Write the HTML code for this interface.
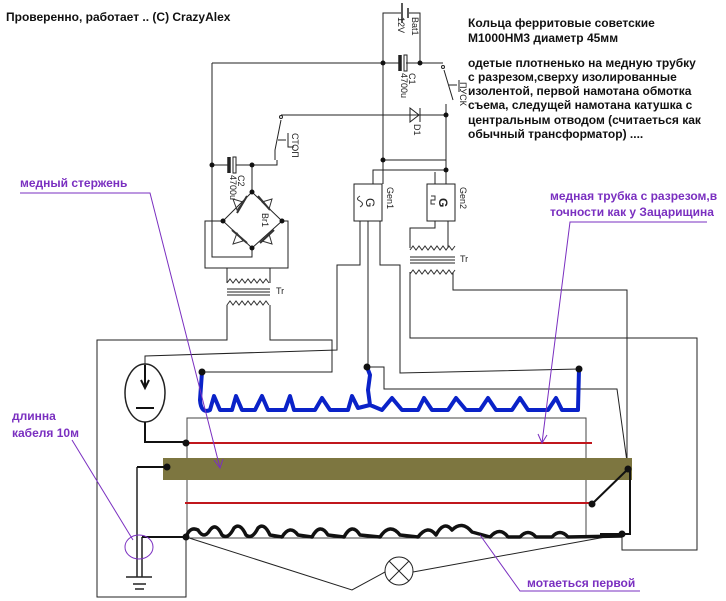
<!DOCTYPE html>
<html><head><meta charset="utf-8"><style>
html,body{margin:0;padding:0;background:#fff;width:726px;height:601px;overflow:hidden}
svg{display:block}
text{font-family:"Liberation Sans","DejaVu Sans",sans-serif}
.b{font-weight:bold;font-size:12px;fill:#111}
.p{font-weight:bold;font-size:12px;fill:#7a2fc0}
.s{font-size:9px;fill:#222}
</style></head><body>
<svg width="726" height="601" viewBox="0 0 726 601" xmlns="http://www.w3.org/2000/svg">
<rect width="726" height="601" fill="#fff"/>
<text x="6" y="21" class="b">Проверенно, работает .. (C) CrazyAlex</text>
<g class="b">
<text x="468" y="27">Кольца ферритовые советские</text>
<text x="468" y="42">М1000НМ3 диаметр 45мм</text>
<text x="468" y="67">одетые плотненько на медную трубку</text>
<text x="468" y="81">с разрезом,сверху изолированные</text>
<text x="468" y="95">изолентой, первой намотана обмотка</text>
<text x="468" y="109">съема, следущей намотана катушка с</text>
<text x="468" y="124">центральным отводом (считаеться как</text>
<text x="468" y="138">обычный трансформатор) ....</text>
</g>

<g fill="none" stroke="#222" stroke-width="1">
<path d="M383,63 V13 H401 M409,13 H420 V63"/>
<line x1="402" y1="3" x2="402" y2="23" stroke-width="1.5"/>
<line x1="408" y1="8" x2="408" y2="18" stroke-width="1.5"/>
<path d="M212,63 H399 M406,63 H443"/>
<line x1="400" y1="55" x2="400" y2="71" stroke-width="3.5"/>
<rect x="404" y="55" width="3" height="16"/>
<circle cx="443" cy="67" r="1.5"/>
<path d="M444,70 L453,100 M446,104 V160 M449,85 H457 M459,80 V92"/>
<path d="M281,115 H446"/>
<path d="M410,108 L410,122 L419,115 Z"/>
<line x1="420" y1="108" x2="420" y2="122"/>
<path d="M212,63 V257 H252 V248"/>
<path d="M212,165 H228 M236,165 H277 V160"/>
<line x1="229" y1="157" x2="229" y2="173" stroke-width="3.5"/>
<rect x="233" y="157" width="3" height="16"/>
<path d="M252,165 V192"/>
<circle cx="281" cy="117" r="1.5"/>
<path d="M281,120 L275,150 V160 M278,140 H286 M288,133 V147 H294"/>
<path d="M252,192 L223,221 L252,248 L282,221 Z"/>
<path d="M223,221 H205 V268 H288 V221 H282"/>
<path d="M227,268 V283 M270,268 V283 M227,305 V340 H97 V597 H186 V537 M270,305 V340 H332 V372 H202"/>
<line x1="227" y1="289" x2="270" y2="289"/><line x1="227" y1="292" x2="270" y2="292"/><line x1="227" y1="295" x2="270" y2="295"/>
<path d="M383,63 V184 M383,160 H446 M373,184 V170 H446 M435,184 V172 M446,160 V184"/>
<rect x="354" y="184" width="28" height="37"/>
<rect x="427" y="184" width="28" height="37"/>
<path d="M360,221 V265 H337 V350 L145,356 V365"/>
<path d="M368,221 V367"/>
<path d="M380,221 V265 H400 V373 L579,369"/>
<path d="M367,367 H384 V389 H617 L628,469"/>
<path d="M435,221 V228 H410 V248 M448,221 V248"/>
<line x1="410" y1="257" x2="455" y2="257"/><line x1="410" y1="260" x2="455" y2="260"/><line x1="410" y1="263" x2="455" y2="263"/>
<path d="M410,272 V338 H697 V550 H622 V534"/>
<path d="M453,272 V290 H627 V469"/>
<ellipse cx="145" cy="393" rx="20" ry="29" stroke-width="1.5"/>
<rect x="187" y="418" width="399" height="120" stroke="#444"/>
<path d="M186,537 L352,590 L385,572 M413,572 L622,534"/>
<circle cx="399" cy="571" r="14"/>
<path d="M389,561 L409,581 M409,561 L389,581"/>
<path d="M137,467 V577 M142,537 V577 M126,577 H152 M133,584 H146 M135,589 H144" stroke-width="1.5"/>
</g>
<g fill="none" stroke="#333" stroke-width="1">
<path d="M227,283 l3,-4 l3,4 l3,-4 l3,4 l3,-4 l3,4 l3,-4 l3,4 l3,-4 l3,4 l3,-4 l3,4 l3,-4 l3,4"/>
<path d="M227,305 l3,-4 l3,4 l3,-4 l3,4 l3,-4 l3,4 l3,-4 l3,4 l3,-4 l3,4 l3,-4 l3,4 l3,-4 l3,4"/>
<path d="M410,250 l3,-4 l3,4 l3,-4 l3,4 l3,-4 l3,4 l3,-4 l3,4 l3,-4 l3,4 l3,-4 l3,4 l3,-4 l3,4 l3,-4"/>
<path d="M410,274 l3,-4 l3,4 l3,-4 l3,4 l3,-4 l3,4 l3,-4 l3,4 l3,-4 l3,4 l3,-4 l3,4 l3,-4 l3,4 l3,-4"/>
<path d="M233,199 l10,3 l-6,8 z M262,202 l10,-3 l-3,10 z M233,244 l10,-3 l-6,-8 z M262,241 l10,3 l-3,-10 z"/>
<path d="M237,213 L247,196 M258,196 L270,210 M232,230 L247,243 M260,243 L274,230" stroke-width="2"/>
<path d="M360,196 q-5,3 0,5 q5,3 0,6 M431,196 h4 v4 h-4 v4 h4"/>
</g>
<g class="s">
<text transform="translate(366,198) rotate(90)" font-size="12">G</text>
<text transform="translate(439,198) rotate(90)" font-size="12" font-weight="bold">G</text>
<text x="460" y="262">Tr</text><text x="276" y="294">Tr</text>
<text transform="translate(387,187) rotate(90)">Gen1</text>
<text transform="translate(460,187) rotate(90)">Gen2</text>
<text transform="translate(412,17) rotate(90)">Bat1</text>
<text transform="translate(398,17) rotate(90)">12V</text>
<text transform="translate(409,73) rotate(90)">C1</text>
<text transform="translate(401,73) rotate(90)">4700u</text>
<text transform="translate(238,175) rotate(90)">C2</text>
<text transform="translate(230,175) rotate(90)">4700u</text>
<text transform="translate(262,213) rotate(90)">Br1</text>
<text transform="translate(414,124) rotate(90)">D1</text>
<text transform="translate(292,133) rotate(90)">СТОП</text>
<text transform="translate(460,82) rotate(90)">ПУСК</text>
</g>
<path d="M145,365 V388 M141,380 L145,388 L149,380 M136,408 H154 M145,422 V442 H186" fill="none" stroke="#111" stroke-width="2"/>
<line x1="186" y1="443" x2="592" y2="443" stroke="#c0161c" stroke-width="2"/>
<line x1="185" y1="503" x2="592" y2="503" stroke="#c0161c" stroke-width="2"/>
<rect x="163" y="458" width="469" height="22" fill="#7d7640"/>
<path d="M167,467 H137 M186,537 H142 M592,504 L628,469 M630,469 V534 H600" fill="none" stroke="#111" stroke-width="2"/>
<path d="M202,372 L200,400 Q201,414 210,410 L214,396 L220,410 L232,410 L236,396 L242,410 L255,410 L262,396 L268,410 L285,410 L290,396 L294,410 L315,410 L322,398 L330,410 L348,410 L352,396 L358,408 L370,405 L368,390 L370,375 L367,367 M370,405 L382,410 L392,398 L402,410 L418,410 L424,398 L432,410 L448,410 L456,398 L466,410 L480,410 L488,398 L496,410 L512,410 L520,398 L528,410 L548,410 L556,398 L562,410 L578,410 L579,369" fill="none" stroke="#0a22c8" stroke-width="4" stroke-linejoin="round"/>
<path d="M186,537 Q190,526 198,530 Q204,540 210,530 Q216,522 222,535 Q228,540 234,528 Q240,522 246,535 Q252,540 258,528 Q264,522 270,535 L282,537 Q290,524 298,535 L312,537 Q320,522 328,535 L344,537 Q352,522 360,535 L380,537 Q390,522 400,535 L418,537 Q428,524 436,535 Q444,520 452,530 Q462,520 472,532 L490,537 Q500,526 508,537 L520,537 Q528,528 536,537 L552,537 Q560,528 568,537 L622,536" fill="none" stroke="#111" stroke-width="3.5" stroke-linejoin="round"/>
<g fill="#111">
<circle cx="383" cy="63" r="2.5"/><circle cx="420" cy="63" r="2.5"/><circle cx="446" cy="115" r="2.5"/>
<circle cx="383" cy="160" r="2.5"/><circle cx="446" cy="170" r="2.5"/>
<circle cx="212" cy="165" r="2.5"/><circle cx="252" cy="165" r="2.5"/>
<circle cx="252" cy="192" r="2.5"/><circle cx="223" cy="221" r="2.5"/><circle cx="282" cy="221" r="2.5"/><circle cx="252" cy="248" r="2.5"/>
<circle cx="202" cy="372" r="3.5"/><circle cx="367" cy="367" r="3.5"/><circle cx="579" cy="369" r="3.5"/>
<circle cx="186" cy="443" r="3.5"/><circle cx="167" cy="467" r="3.5"/><circle cx="628" cy="469" r="3.5"/>
<circle cx="592" cy="504" r="3.5"/><circle cx="186" cy="537" r="3.5"/><circle cx="622" cy="534" r="3.5"/>
</g>
<g fill="none" stroke="#7a2fc0" stroke-width="1">
<path d="M20,193 H150 L220,468 M214,460 L220,468 L223,459"/>
<path d="M707,222 H570 L542,443 M538,434 L542,443 L547,435"/>
<path d="M72,440 L133,540"/>
<ellipse cx="139" cy="547" rx="14" ry="12"/>
<path d="M480,535 L520,591 H640"/>
</g>
<text x="20" y="187" class="p">медный стержень</text>
<text x="550" y="200" class="p">медная трубка с разрезом,в</text>
<text x="550" y="216" class="p">точности как  у Зацарищина</text>
<text x="12" y="420" class="p">длинна</text>
<text x="12" y="437" class="p">кабеля 10м</text>
<text x="527" y="587" class="p">мотаеться первой</text>
</svg>
</body></html>
